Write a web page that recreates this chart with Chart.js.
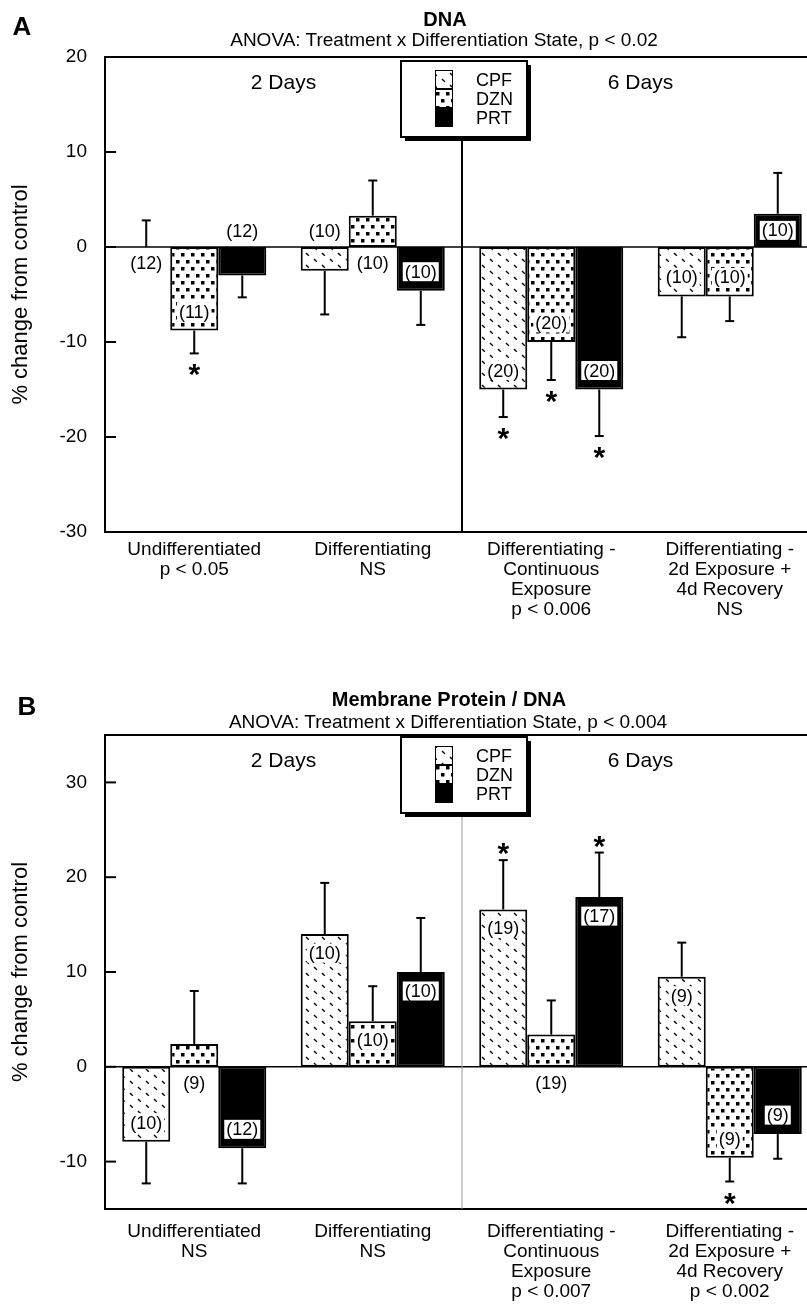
<!DOCTYPE html>
<html><head><meta charset="utf-8">
<script src="https://cdn.jsdelivr.net/npm/chart.js@4.4.0/dist/chart.umd.min.js"></script>
<style>
html,body{margin:0;padding:0;overflow:hidden;background:#fff;width:807px;height:1305px;position:relative;}
.wrap{position:absolute;left:0;width:820px;z-index:1;}
.txt{position:absolute;z-index:2;font-family:"Liberation Sans",Arial,sans-serif;color:#000;white-space:nowrap;transform:translate(-50%,-50%);line-height:1;}
</style></head><body>
<div class="wrap" style="top:0;height:650px"><canvas id="cA" width="820" height="650"></canvas></div>
<div class="wrap" style="top:660px;height:645px"><canvas id="cB" width="820" height="645"></canvas></div>
<div class="txt" style="left:22px;top:26px;font-size:26px;font-weight:bold">A</div>
<div class="txt" style="left:445px;top:19px;font-size:20px;font-weight:bold">DNA</div>
<div class="txt" style="left:444px;top:39px;font-size:19px">ANOVA: Treatment x Differentiation State, p &lt; 0.02</div>
<div class="txt" style="left:27px;top:706px;font-size:26px;font-weight:bold">B</div>
<div class="txt" style="left:449px;top:699px;font-size:20px;font-weight:bold">Membrane Protein / DNA</div>
<div class="txt" style="left:448px;top:721px;font-size:19px">ANOVA: Treatment x Differentiation State, p &lt; 0.004</div>
<script>
// ---------- data ----------
const seriesNames = ["CPF", "DZN", "PRT"];
const periodLabels = ["2 Days", "6 Days"];
const yAxisTitle = "% change from control";

const dnaCategories = [["Undifferentiated", "p < 0.05"], ["Differentiating", "NS"], ["Differentiating -", "Continuous", "Exposure", "p < 0.006"], ["Differentiating -", "2d Exposure +", "4d Recovery", "NS"]];
const memCategories = [["Undifferentiated", "NS"], ["Differentiating", "NS"], ["Differentiating -", "Continuous", "Exposure", "p < 0.007"], ["Differentiating -", "2d Exposure +", "4d Recovery", "p < 0.002"]];

const dnaYTicks = [-30, -20, -10, 0, 10, 20];
const memYTicks = [-10, 0, 10, 20, 30];
const dnaYRange = [-30, 20];
const memYRange = [-15, 35];

// Panel A: DNA
const dnaCPF = [0.0, -2.5, -15.0, -5.2];
const dnaDZN = [-8.8, 3.3, -10.0, -5.2];
const dnaPRT = [-3.0, -4.6, -15.0, 3.5];
const dnaCPFerr = [2.8, 4.6, 2.9, 4.3];
const dnaDZNerr = [2.4, 3.7, 4.0, 2.6];
const dnaPRTerr = [2.3, 3.6, 4.9, 4.3];
const dnaCPFn = [12, 10, 20, 10];
const dnaDZNn = [11, 10, 20, 10];
const dnaPRTn = [12, 10, 20, 10];
const dnaCPFsig = [false, false, true, false];
const dnaDZNsig = [true, false, true, false];
const dnaPRTsig = [false, false, true, false];

// Panel B: Membrane Protein / DNA
const memCPF = [-7.9, 14.0, 16.6, 9.5];
const memDZN = [2.4, 4.8, 3.4, -9.6];
const memPRT = [-8.6, 10.0, 17.9, -7.1];
const memCPFerr = [4.4, 5.4, 5.2, 3.6];
const memDZNerr = [5.6, 3.7, 3.6, 2.5];
const memPRTerr = [3.7, 5.7, 4.7, 2.6];
const memCPFn = [10, 10, 19, 9];
const memDZNn = [9, 10, 19, 9];
const memPRTn = [12, 10, 17, 9];
const memCPFsig = [false, false, true, false];
const memDZNsig = [false, false, false, true];
const memPRTsig = [false, false, true, false];

// ---------- drawing ----------
const FONT = '"Liberation Sans", Arial, sans-serif';

function makePattern(ctx, kind) {
  const c = document.createElement('canvas');
  const g = c.getContext('2d');
  if (kind === 'CPF') {
    c.width = 16; c.height = 12;
    g.fillStyle = '#fff'; g.fillRect(0, 0, 16, 12);
    g.strokeStyle = '#000'; g.lineWidth = 1.4;
    g.beginPath(); g.moveTo(2, 1); g.lineTo(4.8, 3.8); g.stroke();
    g.beginPath(); g.moveTo(10, 7); g.lineTo(12.8, 9.8); g.stroke();
  } else {
    c.width = 10; c.height = 14;
    g.fillStyle = '#fff'; g.fillRect(0, 0, 10, 14);
    g.fillStyle = '#000';
    g.fillRect(1, 1, 3.5, 3.5); g.fillRect(6, 8, 3.5, 3.5);
  }
  return ctx.createPattern(c, 'repeat');
}

function annotPlugin(p, fills) {
  return {
    id: 'annot',
    afterDatasetsDraw(chart) {
      const {ctx, chartArea: ca, scales: {x, y}} = chart;
      const line = (x1, y1, x2, y2) => { ctx.beginPath(); ctx.moveTo(x1, y1); ctx.lineTo(x2, y2); ctx.stroke(); };
      ctx.save();
      ctx.strokeStyle = '#000'; ctx.fillStyle = '#000';
      // top frame line
      ctx.lineWidth = 2;
      line(ca.left - 1, ca.top, ca.right + 2, ca.top);
      // inner tick marks
      p.yTicks.forEach(v => { const yy = y.getPixelForValue(v); line(ca.left, yy, ca.left + 11, yy); });
      // zero line
      const y0 = y.getPixelForValue(0);
      ctx.lineWidth = 1.6;
      line(ca.left, y0, ca.right + 2, y0);

      // error bars, n labels, stars
      p.values.forEach((vals, i) => {
        const meta = chart.getDatasetMeta(i);
        vals.forEach((v, j) => {
          const bar = meta.data[j];
          const dir = v < 0 ? -1 : 1;
          const yEnd = y.getPixelForValue(v + dir * p.errors[i][j]);
          ctx.lineWidth = 2;
          line(bar.x, bar.y, bar.x, yEnd);
          line(bar.x - 4.5, yEnd, bar.x + 4.5, yEnd);
          if (p.sig[i][j]) {
            ctx.font = 'bold 30px ' + FONT;
            ctx.textAlign = 'center'; ctx.textBaseline = 'alphabetic';
            const c = yEnd - dir * 14;
            ctx.fillText('*', bar.x, c + 17);
          }
          // n label
          const txt = '(' + p.ns[i][j] + ')';
          ctx.font = '18px ' + FONT;
          ctx.textAlign = 'center'; ctx.textBaseline = 'alphabetic';
          const h = Math.abs(bar.y - y0);
          let cy, boxed;
          if (h < 33) {
            cy = v > 0 ? y0 + 16 : y0 - 16;
            if (v === 0) cy = y0 + 16;
            boxed = false;
          } else {
            cy = bar.y + (v > 0 ? 1 : -1) * Math.min(19, h / 2);
            boxed = true;
          }
          if (boxed) {
            const w = ctx.measureText(txt).width + 4;
            ctx.fillStyle = '#fff';
            ctx.fillRect(bar.x - w / 2, cy - 9.5, w, 19);
            ctx.fillStyle = '#000';
          }
          ctx.fillText(txt, bar.x, cy + 6);
        });
      });

      // divider + legend
      const divX = (x.getPixelForValue(1) + x.getPixelForValue(2)) / 2;
      const bw = 126, bh = 76;
      const bx = Math.round(divX - 61), by = ca.top + p.legendOffset;
      ctx.strokeStyle = p.dividerColor; ctx.lineWidth = p.dividerWidth;
      line(divX, by + bh + 4, divX, ca.bottom);
      ctx.strokeStyle = '#000';
      ctx.fillStyle = '#000';
      ctx.fillRect(bx + 4, by + 4, bw, bh);
      ctx.fillStyle = '#fff';
      ctx.fillRect(bx, by, bw, bh);
      ctx.lineWidth = 2;
      ctx.strokeRect(bx, by, bw, bh);
      seriesNames.forEach((name, i) => {
        const sy = by + 9 + i * 19;
        ctx.fillStyle = fills[i];
        ctx.fillRect(bx + 34, sy, 18, 19);
        ctx.lineWidth = 1; ctx.strokeStyle = '#000';
        ctx.strokeRect(bx + 34.5, sy + 0.5, 17, 18);
        ctx.fillStyle = '#000';
        ctx.font = '18px ' + FONT;
        ctx.textAlign = 'left'; ctx.textBaseline = 'alphabetic';
        ctx.fillText(name, bx + 75, sy + 9.5 + 6.5);
      });

      // period labels
      ctx.font = '21px ' + FONT;
      ctx.textAlign = 'center'; ctx.textBaseline = 'alphabetic';
      ctx.fillStyle = '#000';
      ctx.fillText(periodLabels[0], (x.getPixelForValue(0) + x.getPixelForValue(1)) / 2, ca.top + 24 + 7.5);
      ctx.fillText(periodLabels[1], (x.getPixelForValue(2) + x.getPixelForValue(3)) / 2, ca.top + 24 + 7.5);
      ctx.restore();
    }
  };
}

function buildPanel(id, p) {
  const canvas = document.getElementById(id);
  const ctx = canvas.getContext('2d');
  const fills = [makePattern(ctx, 'CPF'), makePattern(ctx, 'DZN'), '#000'];
  const datasets = p.values.map((vals, i) => ({
    label: seriesNames[i], data: vals,
    backgroundColor: fills[i], borderColor: '#000', borderWidth: 2, borderSkipped: false,
    categoryPercentage: 0.807, barPercentage: 1
  }));
  new Chart(ctx, {
    type: 'bar',
    data: {labels: p.categories, datasets},
    options: {
      responsive: false, animation: false, devicePixelRatio: 1,
      layout: {padding: {top: p.padTop, left: 0, right: 1, bottom: 0}},
      plugins: {legend: {display: false}, tooltip: {enabled: false}, title: {display: false}},
      scales: {
        x: {
          grid: {display: false, drawTicks: false},
          border: {display: true, color: '#000', width: 2},
          ticks: {color: '#000', font: {family: FONT, size: 19, lineHeight: 1.05}, padding: p.xPad, maxRotation: 0, minRotation: 0, autoSkip: false},
          afterFit: s => { s.height = p.xAxisHeight; }
        },
        y: {
          min: p.yRange[0], max: p.yRange[1],
          grid: {display: false, drawTicks: false},
          border: {display: true, color: '#000', width: 2},
          ticks: {color: '#000', font: {family: FONT, size: 19}, padding: 18},
          afterBuildTicks: s => { s.ticks = p.yTicks.map(v => ({value: v})); },
          afterFit: s => { s.width = 105; },
          title: {display: true, text: yAxisTitle, color: '#000', font: {family: FONT, size: 22}, padding: {top: 8, bottom: 0}}
        }
      }
    },
    plugins: [annotPlugin(p, fills)]
  });
}

buildPanel('cA', {
  categories: dnaCategories,
  values: [dnaCPF, dnaDZN, dnaPRT],
  errors: [dnaCPFerr, dnaDZNerr, dnaPRTerr],
  ns: [dnaCPFn, dnaDZNn, dnaPRTn],
  sig: [dnaCPFsig, dnaDZNsig, dnaPRTsig],
  yTicks: dnaYTicks, yRange: dnaYRange,
  padTop: 57, xAxisHeight: 118, xPad: 8,
  dividerColor: '#000', dividerWidth: 2, legendOffset: 4
});
buildPanel('cB', {
  categories: memCategories,
  values: [memCPF, memDZN, memPRT],
  errors: [memCPFerr, memDZNerr, memPRTerr],
  ns: [memCPFn, memDZNn, memPRTn],
  sig: [memCPFsig, memDZNsig, memPRTsig],
  yTicks: memYTicks, yRange: memYRange,
  padTop: 75, xAxisHeight: 96, xPad: 13,
  dividerColor: '#999', dividerWidth: 1, legendOffset: 2
});
</script>
</body></html>
